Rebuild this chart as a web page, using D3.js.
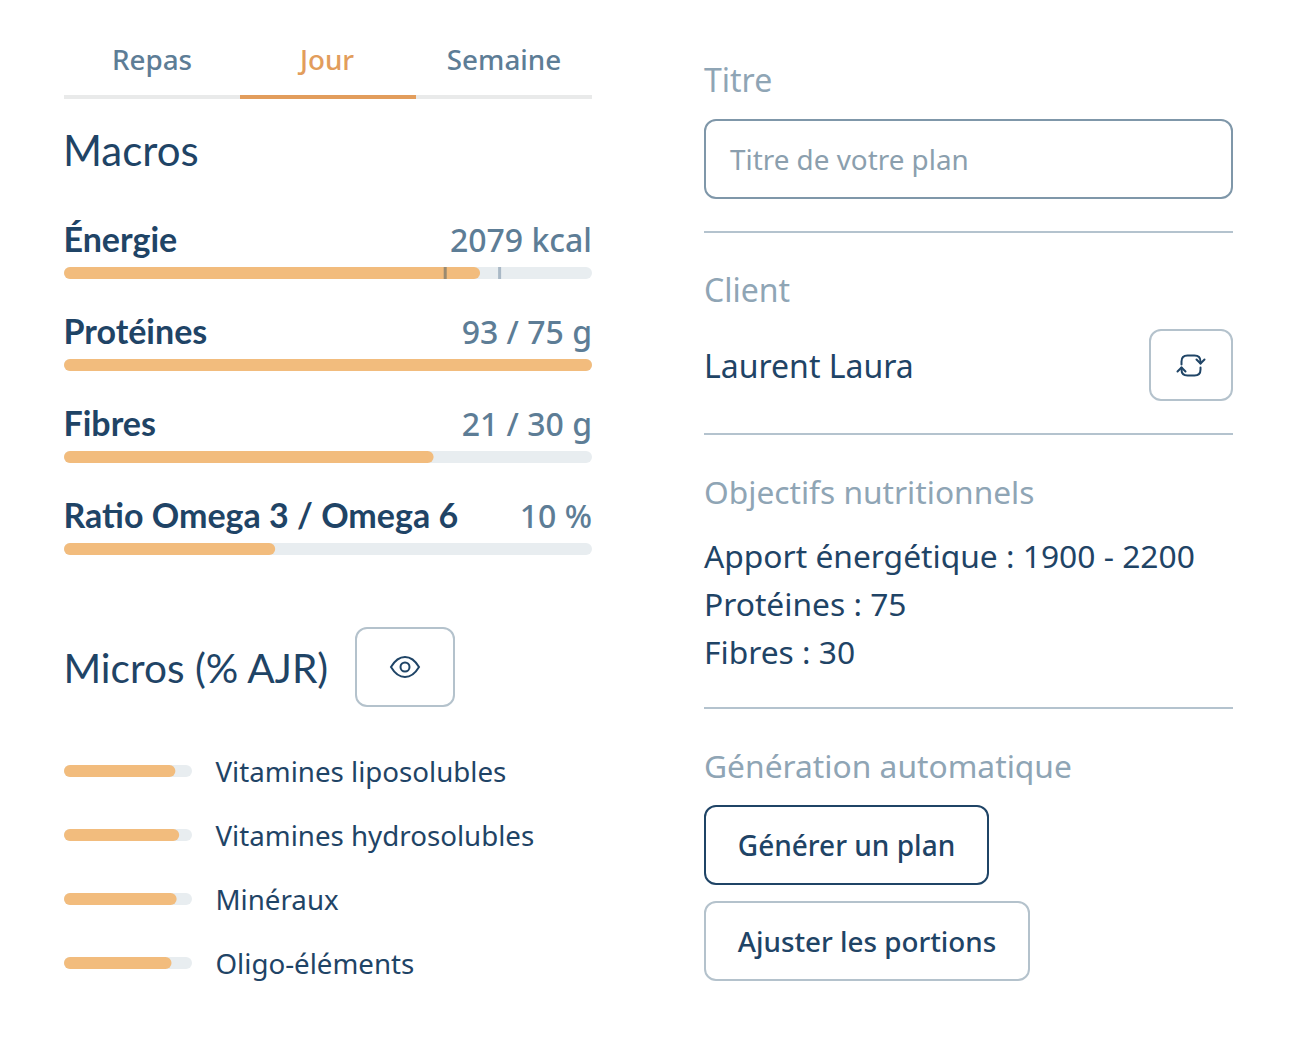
<!DOCTYPE html>
<html>
<head>
<meta charset="utf-8">
<script src="https://cdn.jsdelivr.net/npm/d3@7"></script>
<style>
  html, body { margin: 0; padding: 0; background: #fff; }
  svg { display: block; }
  .body { font-family: "Noto Sans", sans-serif; }
  .head { font-family: "Lato", "Noto Sans", sans-serif; }
</style>
</head>
<body>
<svg id="chart" width="1308" height="1064"></svg>
<script>
// Values (percent of each bar's track)
const tabs = ["Repas", "Jour", "Semaine"];
const macroNames = ["Énergie", "Protéines", "Fibres", "Ratio Omega 3 / Omega 6"];
const macroLabels = ["2079 kcal", "93 / 75 g", "21 / 30 g", "10 %"];
const macroValues = [78.8, 100, 70, 40];
const energyMarks = [72.2, 82.5];
const microNames = ["Vitamines liposolubles", "Vitamines hydrosolubles", "Minéraux", "Oligo-éléments"];
const microValues = [87, 90, 88, 84];
const goals = ["Apport énergétique : 1900 - 2200", "Protéines : 75", "Fibres : 30"];

const navy = "#1f4466", slate = "#5d7d96", muted = "#8fa5b5", line = "#b4c3ce";
const orange = "#f2bc7d", track = "#e8edf0", border = "#b4c2cc";

const svg = d3.select("#chart");

// scales
const macroX = d3.scaleLinear().domain([0, 100]).range([64, 592]);
const macroY = d3.scalePoint().domain(macroNames).range([273, 549]);
const microX = d3.scaleLinear().domain([0, 100]).range([64, 192]);
const microY = d3.scalePoint().domain(microNames).range([771, 963]);
const tabX = d3.scaleBand().domain(tabs).range([64, 592]);

const text = (x, y, str, size, color, cls = "body", weight = 400, anchor = "start") =>
  svg.append("text").attr("class", cls).attr("x", x).attr("y", y)
    .attr("font-size", size).attr("font-weight", weight)
    .attr("fill", color).attr("text-anchor", anchor).text(str);

const hr = (x1, x2, y) =>
  svg.append("line").attr("x1", x1).attr("x2", x2).attr("y1", y).attr("y2", y)
    .attr("stroke", line).attr("stroke-width", 2);

const box = (x, y, w, h, stroke) =>
  svg.append("rect").attr("x", x).attr("y", y).attr("width", w).attr("height", h)
    .attr("rx", 11).attr("fill", "#fff").attr("stroke", stroke).attr("stroke-width", 2);

// tabs
svg.append("rect").attr("x", 64).attr("y", 95).attr("width", 528).attr("height", 4).attr("fill", "#e9eaea");
svg.append("g").selectAll("text").data(tabs).join("text")
  .attr("class", "body")
  .attr("x", d => tabX(d) + tabX.bandwidth() / 2 - (d === "Jour" ? 1 : 0))
  .attr("y", 70)
  .attr("text-anchor", "middle")
  .attr("font-size", 27.8)
  .attr("font-weight", 500)
  .attr("fill", d => d === "Jour" ? "#e29d5c" : slate)
  .text(d => d);
svg.append("rect").attr("x", tabX("Jour")).attr("y", 95).attr("width", tabX.bandwidth()).attr("height", 4).attr("fill", "#e29d5c");

// macros
text(63, 166, "Macros", 42, navy, "head");

const macroRow = svg.append("g").selectAll("g").data(macroNames).join("g");
macroRow.append("text").attr("class", "head")
  .attr("x", 63.5).attr("y", d => macroY(d) - 21)
  .attr("font-size", 34).attr("font-weight", 700).attr("fill", navy)
  .text(d => d);
macroRow.append("text").attr("class", "body")
  .attr("x", 592).attr("y", d => macroY(d) - 21)
  .attr("text-anchor", "end").attr("font-size", 32).attr("font-weight", 500).attr("fill", slate)
  .text((d, i) => macroLabels[i]);
macroRow.append("rect")
  .attr("x", macroX(0)).attr("y", d => macroY(d) - 6)
  .attr("width", macroX(100) - macroX(0)).attr("height", 12).attr("rx", 6)
  .attr("fill", track);
macroRow.append("rect")
  .attr("x", macroX(0)).attr("y", d => macroY(d) - 6)
  .attr("width", (d, i) => macroX(macroValues[i]) - macroX(0)).attr("height", 12).attr("rx", 6)
  .attr("fill", orange);

// energy target marks
svg.append("g").selectAll("rect").data(energyMarks).join("rect")
  .attr("x", d => macroX(d) - 1.5).attr("y", macroY(macroNames[0]) - 6)
  .attr("width", 3).attr("height", 12)
  .attr("fill", (d, i) => i === 0 ? "#9a8a70" : "#a9b8c6");

// micros
text(63.5, 683, "Micros (% AJR)", 40.6, navy, "head");
box(356, 628, 98, 78, border);
const eye = svg.append("g").attr("transform", "translate(405,667)")
  .attr("fill", "none").attr("stroke", navy).attr("stroke-width", 2);
eye.append("path").attr("d", "M-14,0 C-9,-8.5 -4,-10 0,-10 C4,-10 9,-8.5 14,0 C9,8.5 4,10 0,10 C-4,10 -9,8.5 -14,0 Z");
eye.append("circle").attr("r", 4.5);

const microRow = svg.append("g").selectAll("g").data(microNames).join("g");
microRow.append("rect")
  .attr("x", microX(0)).attr("y", d => microY(d) - 6)
  .attr("width", microX(100) - microX(0)).attr("height", 12).attr("rx", 6)
  .attr("fill", track);
microRow.append("rect")
  .attr("x", microX(0)).attr("y", d => microY(d) - 6)
  .attr("width", (d, i) => microX(microValues[i]) - microX(0)).attr("height", 12).attr("rx", 6)
  .attr("fill", orange);
microRow.append("text").attr("class", "body")
  .attr("x", 215.5).attr("y", d => microY(d) + 11)
  .attr("font-size", 27.7).attr("fill", navy)
  .text(d => d);

// right column
text(704, 92, "Titre", 32, muted);
box(705, 120, 527, 78, "#7f97a9");
text(730, 170, "Titre de votre plan", 27.85, "#8b9fae");
hr(704, 1233, 232);

text(704, 302, "Client", 32, muted);
text(704, 378, "Laurent Laura", 32, navy);
box(1150, 330, 82, 70, border);
const refresh = svg.append("g").attr("transform", "translate(1190.5,365.5)")
  .attr("fill", "none").attr("stroke", navy).attr("stroke-width", 2).attr("stroke-linecap", "round").attr("stroke-linejoin", "round");
refresh.append("path").attr("d", "M-9,-1 V-4 Q-9,-10 -3,-10 H4 Q10,-10 10,-4 V-2");
refresh.append("path").attr("d", "M6,-6 L10,-2 L14,-6");
refresh.append("path").attr("d", "M10,2 V4 Q10,10 4,10 H-3 Q-9,10 -9,4 V2");
refresh.append("path").attr("d", "M-13,6 L-9,2 L-5,6");
hr(704, 1233, 434);

text(704, 503.5, "Objectifs nutritionnels", 31.7, muted);
svg.append("g").selectAll("text").data(goals).join("text")
  .attr("class", "body").attr("x", 704).attr("y", (d, i) => 567.5 + i * 48)
  .attr("font-size", 31.75).attr("fill", navy).text(d => d);
hr(704, 1233, 708);

text(704, 777.5, "Génération automatique", 31.75, muted);
box(705, 806, 283, 78, navy);
text(846.5, 856, "Générer un plan", 28, navy, "body", 500, "middle");
box(705, 902, 324, 78, border);
text(867, 952, "Ajuster les portions", 27.8, navy, "body", 500, "middle");
</script>
</body>
</html>
